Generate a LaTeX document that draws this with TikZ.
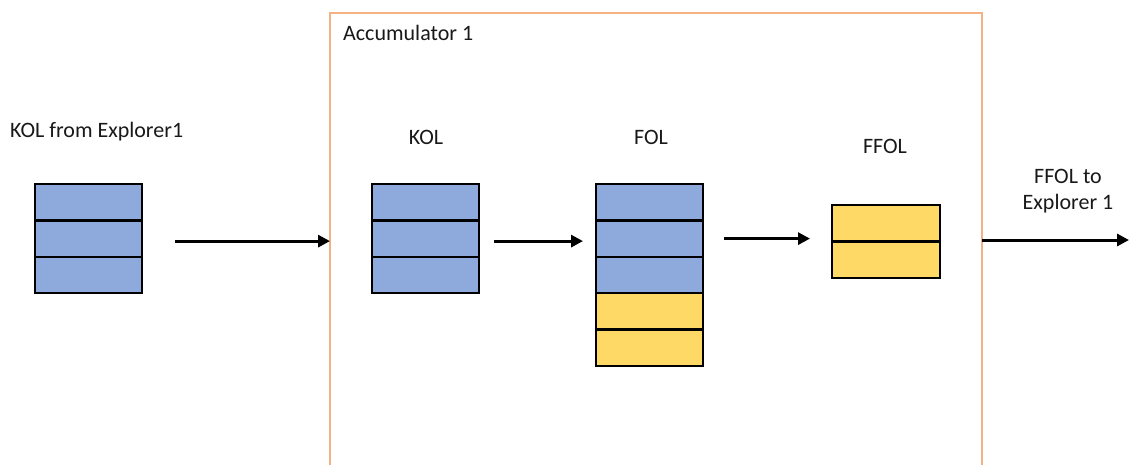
\documentclass[tikz,border=0pt]{standalone}
\usepackage{fontspec}
\setmainfont{Carlito}
\usetikzlibrary{arrows.meta}
\definecolor{cellblue}{HTML}{8EA9DB}
\definecolor{cellyellow}{HTML}{FFD966}
\definecolor{accorange}{HTML}{F4B183}
\tikzset{
  cell/.style={draw=black, line width=2.4pt, minimum width=107pt, minimum height=36.4pt,
    inner sep=0pt, outer sep=0pt, anchor=north west},
  bluecell/.style={cell, fill=cellblue},
  yellowcell/.style={cell, fill=cellyellow},
  arr/.style={line width=3pt, -{Triangle[length=12pt,width=12pt]}},
  lbl/.style={font=\fontsize{22}{25}\selectfont, text=black!90, inner sep=0pt},
}
\begin{document}
\begin{tikzpicture}[x=1pt, y=-1pt]
\useasboundingbox (0,0) rectangle (1130,464);
\fill[white] (0,0) rectangle (1130,464);

% accumulator frame (runs past the lower edge)
\node[draw=accorange, line width=2pt, minimum width=652pt, minimum height=480pt,
  anchor=north west, inner sep=0pt, outer sep=0pt] (acc) at (330,13) {};
\node[lbl, anchor=west] (acclbl) at (343,33) {Accumulator 1};

% incoming KOL
\node[lbl, anchor=west] (srclbl) at (10,132) {KOL from Explorer1};
\foreach \i in {0,1,2} \node[bluecell] (src\i) at (35,184+36.4*\i) {};

% KOL
\node[lbl] (kollbl) at (426,137) {KOL};
\foreach \i in {0,1,2} \node[bluecell] (kol\i) at (372,184+36.4*\i) {};

% FOL
\node[lbl] (follbl) at (651,137) {FOL};
\foreach \i in {0,1,2} \node[bluecell] (fol\i) at (596,184+36.4*\i) {};
\foreach \i in {3,4} \node[yellowcell] (fol\i) at (596,184+36.4*\i) {};

% FFOL
\node[lbl] (ffollbl) at (885,146) {FFOL};
\foreach \i in {0,1} \node[yellowcell, minimum width=108pt, minimum height=36.5pt] (ffol\i) at (832,205+36.5*\i) {};

% outgoing label
\node[lbl, align=center] (outlbl) at (1068,191) {FFOL to\\[1pt]Explorer 1};
\coordinate (outend) at (1129,240);

% connectors
\draw[arr] ([xshift=33pt,yshift=-2.5pt]src1.east) -- ([yshift=-2.5pt]src1.east -| acc.west);
\draw[arr] ([xshift=15pt,yshift=-2.5pt]kol1.east) -- ([xshift=-13pt,yshift=-2.5pt]kol1.east -| fol0.west);
\draw[arr] ([xshift=21pt]fol1.east) -- ([xshift=-22pt]fol1.east -| ffol0.west);
\draw[arr] (outend -| acc.east) -- (outend);
\end{tikzpicture}
\end{document}
